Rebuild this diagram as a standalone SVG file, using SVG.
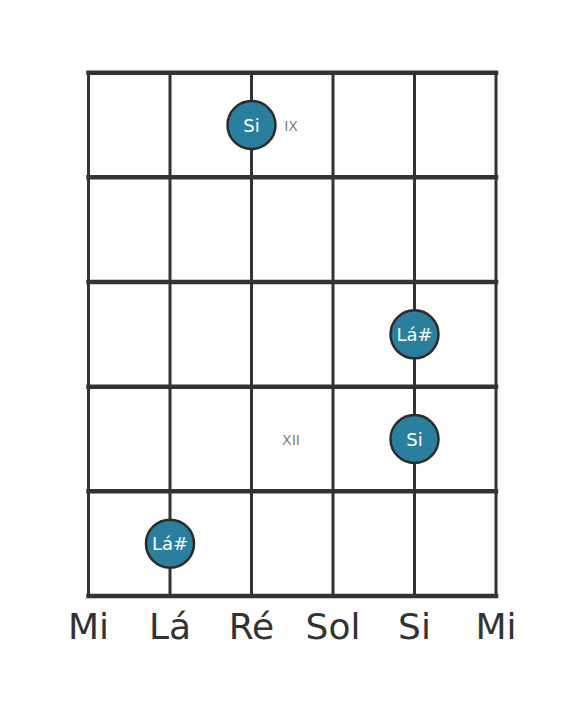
<svg xmlns="http://www.w3.org/2000/svg" width="584" height="711" viewBox="0 0 584 711">
<style>
.str{stroke:#333;stroke-width:3;fill:none}
.fret{stroke:#333;stroke-width:4.5;fill:none;stroke-linecap:square}
.dot{fill:#2a7f9e;stroke:#2b2b2b;stroke-width:2.5}
.dt{font-family:"DejaVu Sans",sans-serif;font-size:18px;fill:#fff;text-anchor:middle;dominant-baseline:central}
.fn{font-family:"DejaVu Sans",sans-serif;font-size:14px;fill:#808080;text-anchor:middle;dominant-baseline:central}
.sn{font-family:"DejaVu Sans",sans-serif;font-size:36px;fill:#333;text-anchor:middle}
</style>
<rect width="584" height="711" fill="#fff"/>
<g id="connectors">
<line class="str" x1="88.5" y1="72.7" x2="88.5" y2="596"/>
<line class="str" x1="170" y1="72.7" x2="170" y2="596"/>
<line class="str" x1="251.5" y1="72.7" x2="251.5" y2="596"/>
<line class="str" x1="333" y1="72.7" x2="333" y2="596"/>
<line class="str" x1="414.5" y1="72.7" x2="414.5" y2="596"/>
<line class="str" x1="496" y1="72.7" x2="496" y2="596"/>
<line class="fret" x1="88.5" y1="72.7" x2="496" y2="72.7"/>
<line class="fret" x1="88.5" y1="177.3" x2="496" y2="177.3"/>
<line class="fret" x1="88.5" y1="282" x2="496" y2="282"/>
<line class="fret" x1="88.5" y1="386.7" x2="496" y2="386.7"/>
<line class="fret" x1="88.5" y1="491.3" x2="496" y2="491.3"/>
<line class="fret" x1="88.5" y1="596" x2="496" y2="596"/>
</g>
<g id="fret-labels">
<text class="fn" x="291" y="126">IX</text>
<text class="fn" x="291" y="439.5">XII</text>
</g>
<g id="note-si-1"><circle class="dot" cx="251.5" cy="125" r="24"/><text class="dt" x="251.5" y="125">Si</text></g>
<g id="note-la-sharp-1"><circle class="dot" cx="414.5" cy="334.3" r="24"/><text class="dt" x="414.5" y="334.3">Lá#</text></g>
<g id="note-si-2"><circle class="dot" cx="414.5" cy="439" r="24"/><text class="dt" x="414.5" y="439">Si</text></g>
<g id="note-la-sharp-2"><circle class="dot" cx="170" cy="543.7" r="24"/><text class="dt" x="170" y="543.7">Lá#</text></g>
<g id="string-names">
<text class="sn" x="88.5" y="639">Mi</text>
<text class="sn" x="170" y="639">Lá</text>
<text class="sn" x="251.5" y="639">Ré</text>
<text class="sn" x="333" y="639">Sol</text>
<text class="sn" x="414.5" y="639">Si</text>
<text class="sn" x="496" y="639">Mi</text>
</g>
</svg>
